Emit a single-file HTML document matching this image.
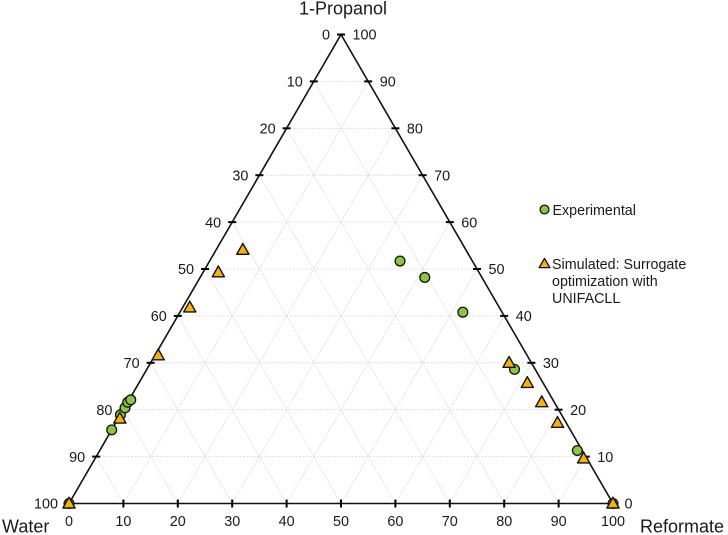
<!DOCTYPE html>
<html lang="en">
<head>
<meta charset="utf-8">
<title>Ternary diagram: 1-Propanol, Water, Reformate</title>
<style>
html,body{margin:0;padding:0;background:#fff;width:728px;height:535px;overflow:hidden}
svg{display:block}
text{font-family:"Liberation Sans",Arial,sans-serif;fill:#1a1a1a}
</style>
</head>
<body>
<svg id="chart" xmlns="http://www.w3.org/2000/svg" width="728" height="535" viewBox="0 0 728 535">
  <g id="grid"></g>
  <g id="axes"></g>
  <g id="ticks"></g>
  <g id="labels"></g>
  <g id="marks"></g>
  <text x="343" y="14.5" font-size="18" text-anchor="middle">1-Propanol</text>
  <text x="2" y="532.5" font-size="18">Water</text>
  <text x="640" y="532.5" font-size="18">Reformate</text>
  <g>
    <g>
      <circle cx="544.5" cy="209.5" r="4.4" fill="#8cc63f" stroke="#111" stroke-width="1.3"/>
      <text x="552.5" y="215" font-size="14.3">Experimental</text>
    </g>
    <g>
      <polygon points="544.5,258.5 549.9,267.6 539.1,267.6" fill="#f9b200" stroke="#111" stroke-width="1.3" stroke-linejoin="round"/>
      <text x="552" y="269" font-size="14.3">Simulated: Surrogate</text>
      <text x="552" y="286" font-size="14.3">optimization with</text>
      <text x="552" y="303" font-size="14.3">UNIFACLL</text>
    </g>
  </g>
</svg>
<script>
// Tick values, in percent
const tickValues = [0, 10, 20, 30, 40, 50, 60, 70, 80, 90, 100];
// Experimental series: composition in percent
const experimentalReformate = [0, 0, 0, 0.1, 0, 0.3, 35, 41.3, 52, 67.6, 87.8, 100];
const experimentalPropanol  = [0, 15.7, 18.9, 20.4, 21.6, 22.1, 51.7, 48.2, 40.8, 28.6, 11.3, 0];
// Simulated series: composition in percent
const simulatedReformate = [4.9, 2.8, 1.3, 0.6, 0.3, 0, 65.9, 71.4, 76.1, 81.2, 89.8, 100];
const simulatedPropanol  = [54.1, 49.3, 41.8, 31.6, 18.1, 0, 30, 25.7, 21.6, 17.2, 9.6, 0];

const NS = 'http://www.w3.org/2000/svg';
const left = 69, right = 613, bottom = 503.5, top_ = 34.5;
function px(reformate, propanol) { return left + (right - left) * (reformate + propanol / 2) / 100; }
function py(propanol) { return bottom - (bottom - top_) * propanol / 100; }

function make(tag, parent, attrs) {
  const el = document.createElementNS(NS, tag);
  for (const k in attrs) el.setAttribute(k, attrs[k]);
  parent.appendChild(el);
  return el;
}
function gridLine(parent, a, b, dash) {
  const el = make('line', parent, {x1: a[0], y1: a[1], x2: b[0], y2: b[1], stroke: '#d6d6d6', 'stroke-width': 0.8, 'stroke-dasharray': dash});
  
  
}

const gridG = document.getElementById('grid');
const ticksG = document.getElementById('ticks');
const labelsG = document.getElementById('labels');
const marksG = document.getElementById('marks');
const axesG = document.getElementById('axes');

tickValues.forEach(function (v) {
  if (v === 0 || v === 100) return;
  gridLine(gridG, [px(0, v), py(v)], [px(100 - v, v), py(v)], '2 1.5');
  gridLine(gridG, [px(v, 0), py(0)], [px(v, 100 - v), py(100 - v)], '1.5 1');
  gridLine(gridG, [px(v, 0), py(0)], [px(0, v), py(v)], '1.5 1');
});

const tri = make('polygon', axesG, {
  points: [[px(0, 0), py(0)], [px(100, 0), py(0)], [px(0, 100), py(100)]].map(function (p) { return p.join(','); }).join(' '),
  fill: 'none', stroke: '#111', 'stroke-width': 1.6, 'stroke-linejoin': 'round'
});



function tick(x1, y1, x2, y2) {
  const el = make('line', ticksG, {x1: x1, y1: y1, x2: x2, y2: y2, stroke: '#000', 'stroke-width': 2});
  
  
}
function label(x, y, anchor, value) {
  const el = make('text', labelsG, {x: x, y: y, 'text-anchor': anchor, 'font-size': 14.4});
  
  
  el.textContent = String(value);
}
tickValues.forEach(function (v) {
  // Left axis: water, 0 at apex to 100 at the water corner
  const yl = py(100 - v), xl = px(0, 100 - v);
  if (v !== 100) tick(xl - 4, yl, xl + 4, yl);
  label(xl - 11, yl + 5.2, 'end', v);
  // Right axis: propanol, 0 at the reformate corner to 100 at apex
  const yr = py(v), xr = px(100 - v, v);
  if (v !== 0) tick(xr - 4, yr, xr + 4, yr);
  label(xr + 11.5, yr + 5.2, 'start', v);
  // Bottom axis: reformate
  const xb = px(v, 0);
  if (v !== 0 && v !== 100) tick(xb, bottom - 4, xb, bottom + 4);
  label(xb, 526, 'middle', v);
});

experimentalReformate.forEach(function (r, i) {
  const c = make('circle', marksG, {cx: px(r, experimentalPropanol[i]), cy: py(experimentalPropanol[i]), r: 4.9, fill: '#8cc63f', stroke: '#111', 'stroke-width': 1.3});
  
  
});
simulatedReformate.forEach(function (r, i) {
  const x = px(r, simulatedPropanol[i]), y = py(simulatedPropanol[i]);
  const t = make('polygon', marksG, {
    points: [[x, y - 6.3], [x + 6.1, y + 4.5], [x - 6.1, y + 4.5]].map(function (p) { return p.join(','); }).join(' '),
    fill: '#f9b200', stroke: '#111', 'stroke-width': 1.4, 'stroke-linejoin': 'round'
  });
  
  
});
</script>
</body>
</html>
